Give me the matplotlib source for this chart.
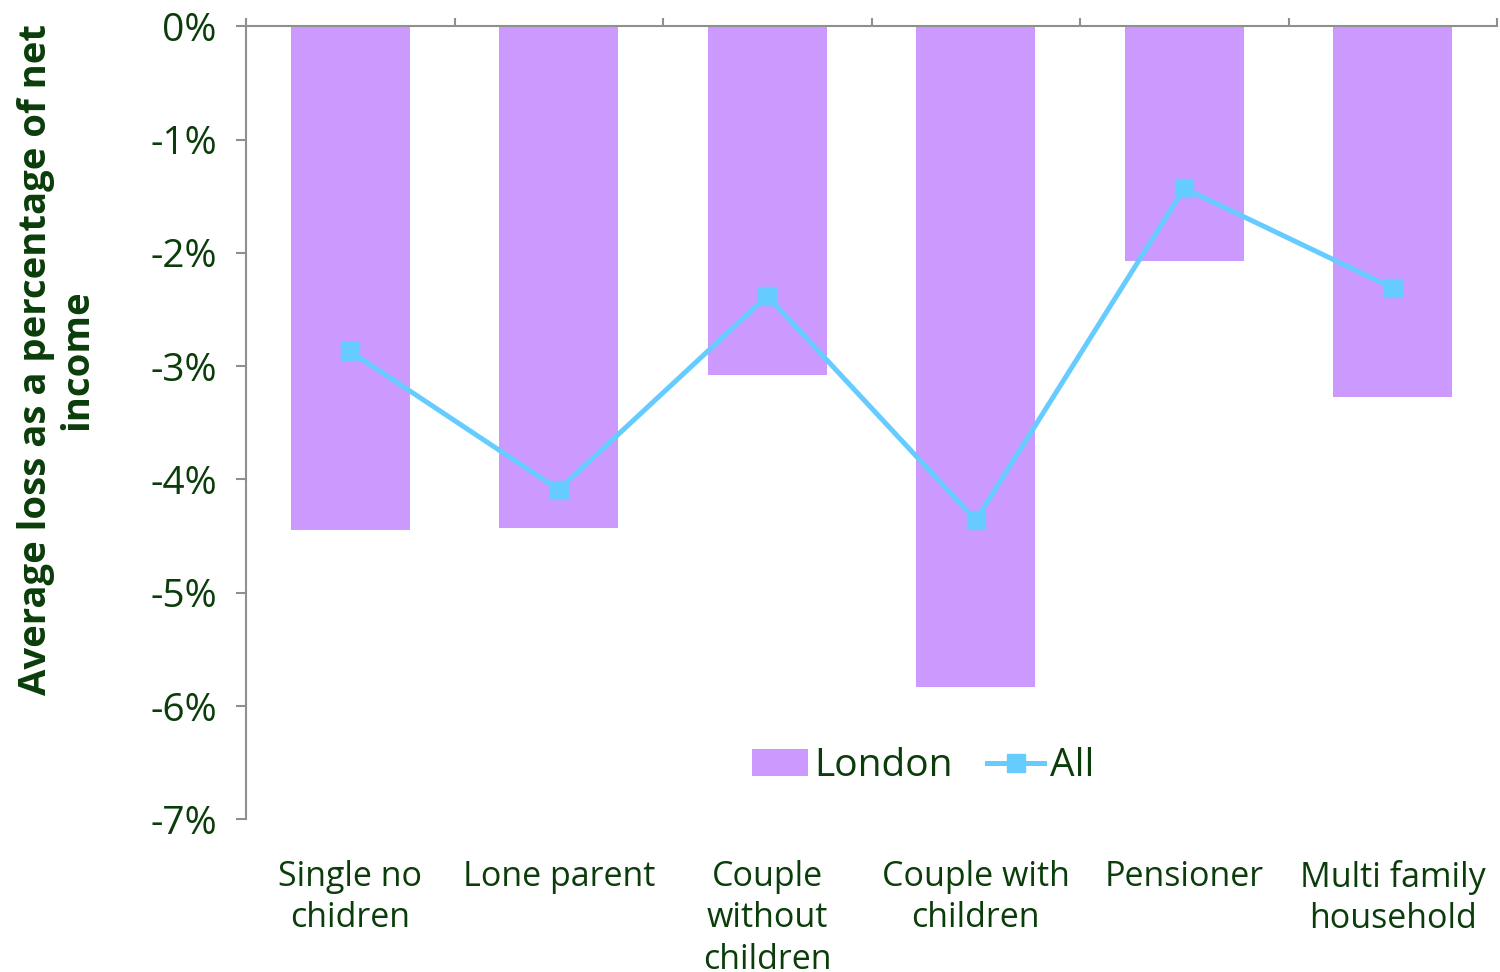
import matplotlib.pyplot as plt
import numpy as np
from matplotlib.ticker import FuncFormatter

plt.rcParams['font.family'] = ['Open Sans', 'DejaVu Sans']

categories = ['Single no\nchidren', 'Lone parent', 'Couple\nwithout\nchildren',
              'Couple with\nchildren', 'Pensioner', 'Multi family\nhousehold']
london = [-4.45, -4.43, -3.08, -5.83, -2.07, -3.27]
all_hh = [-2.87, -4.09, -2.38, -4.36, -1.43, -2.31]

txt = '#0b3d0b'
spine = '#8c918c'

fig = plt.figure(figsize=(15, 9.72), dpi=100)
ax = fig.add_axes([0.164, 0.157, 0.834, 0.816])

x = np.arange(len(categories))
bars = ax.bar(x, london, width=0.57, color='#cc99ff', label='London', zorder=2)
line, = ax.plot(x, all_hh, color='#66ccff', lw=3.6, marker='s', ms=13,
                label='All', zorder=3)

ax.set_xlim(-0.5, len(categories) - 0.5)
ax.set_ylim(-7, 0)
ax.set_yticks(np.arange(-7, 1, 1))
ax.yaxis.set_major_formatter(FuncFormatter(lambda v, p: f'{v:.0f}%'))

for s in ['right', 'bottom']:
    ax.spines[s].set_visible(False)
for s in ['left', 'top']:
    ax.spines[s].set_color(spine)
    ax.spines[s].set_linewidth(1.5)

# category names sit below the plot, boundary ticks on the zero line
ax.set_xticks(x)
ax.set_xticklabels(categories, fontsize=24.5, color=txt, linespacing=1.3,
                   va='top')
ax.tick_params(axis='x', which='major', length=0, pad=29)
ax.set_xticks(np.arange(-0.5, len(categories)), minor=True)
ax.tick_params(axis='x', which='minor', top=True, bottom=False,
               direction='out', length=6, width=1.5, color=spine)
ax.tick_params(axis='y', direction='out', length=7, width=1.5, color=spine,
               labelsize=28, labelcolor=txt, pad=14)

ax.set_ylabel('Average loss as a percentage of net\nincome', fontsize=27.5,
              fontweight='bold', color=txt, linespacing=1.1)
ax.yaxis.set_label_coords(-0.120, 0.58)

ax.legend([bars, line], ['London', 'All'], loc='center',
          bbox_to_anchor=(0.541, 0.067), ncol=2, frameon=False, fontsize=28,
          handlelength=1.45, handletextpad=0.15, columnspacing=0.9,
          labelcolor=txt)

fig.savefig('out.png', dpi=100)
